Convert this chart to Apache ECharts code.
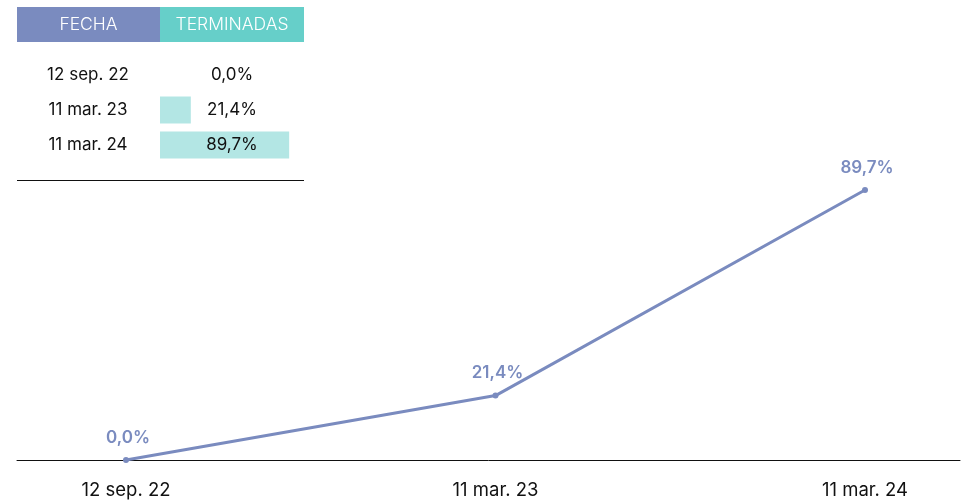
<!DOCTYPE html>
<html>
<head>
<meta charset="utf-8">
<script src="https://cdn.jsdelivr.net/npm/echarts@6/dist/echarts.min.js"></script>
<style>
  html, body { margin: 0; padding: 0; background: #fff; }
  #chart { width: 961px; height: 501px; }
</style>
</head>
<body>
<div id="chart"></div>
<script>
// datos
const fechas = ['12 sep. 22', '11 mar. 23', '11 mar. 24']
const terminadas = [0.0, 21.4, 89.7] // %
const cabecera = ['FECHA', 'TERMINADAS']

const azul = '#7a8bbf'
const verde = '#66cfc9'
const verdeClaro = '#b3e6e4'
const fuente = 'Inter, "Noto Sans", sans-serif'

const pct = v => v.toFixed(1).replace('.', ',') + '%'

const chart = echarts.init(document.getElementById('chart'))
const option = {
    animation: false,
    textStyle: { fontFamily: fuente },
    grid: [
        // linea principal
        { left: 126, right: 96, top: 159, bottom: 41 },
        // solo para la linea del eje
        { left: 17, right: 1, top: 159, bottom: 41 },
        // tabla (barras de datos)
        { left: 160, width: 144, top: 57.5, height: 105 }
    ],
    xAxis: [
        {
            gridIndex: 0,
            type: 'category',
            boundaryGap: false,
            data: fechas,
            axisLine: { show: false },
            axisTick: { show: false },
            axisLabel: { color: '#111', fontSize: 18.5, margin: 21, fontFamily: fuente }
        },
        {
            gridIndex: 1,
            type: 'value',
            min: 0,
            max: 1,
            axisLine: { show: true, lineStyle: { color: '#111', width: 1 } },
            axisTick: { show: false },
            axisLabel: { show: false },
            splitLine: { show: false }
        },
        {
            gridIndex: 2,
            type: 'value',
            min: 0,
            max: 100,
            show: false
        }
    ],
    yAxis: [
        { gridIndex: 0, type: 'value', min: 0, max: 100, show: false },
        { gridIndex: 1, type: 'value', min: 0, max: 1, show: false },
        {
            gridIndex: 2,
            type: 'category',
            inverse: true,
            data: fechas,
            axisLine: { show: false },
            axisTick: { show: false },
            axisLabel: { align: 'center', margin: 72, color: '#111', fontSize: 17, fontFamily: fuente }
        }
    ],
    series: [
        {
            type: 'line',
            xAxisIndex: 0,
            yAxisIndex: 0,
            data: terminadas,
            symbol: 'circle',
            symbolSize: 6,
            lineStyle: { color: azul, width: 3 },
            itemStyle: { color: azul },
            label: {
                show: true,
                position: 'top',
                distance: 11,
                offset: [2, 0],
                color: azul,
                fontSize: 17,
                fontWeight: 600,
                fontFamily: fuente,
                formatter: p => pct(p.value)
            },
            z: 5
        },
        // barras de la tabla
        {
            type: 'bar',
            xAxisIndex: 2,
            yAxisIndex: 2,
            data: terminadas,
            barWidth: 27,
            itemStyle: { color: verdeClaro },
            silent: true
        },
        // capa transparente para centrar el texto en la columna
        {
            type: 'bar',
            xAxisIndex: 2,
            yAxisIndex: 2,
            data: terminadas.map(() => 100),
            barWidth: 27,
            barGap: '-100%',
            itemStyle: { color: 'rgba(0,0,0,0)' },
            label: {
                show: true,
                position: 'inside',
                color: '#111',
                fontSize: 17,
                fontFamily: fuente,
                formatter: p => pct(terminadas[p.dataIndex])
            },
            silent: true
        }
    ],
    graphic: [
        { type: 'rect', shape: { x: 17, y: 7, width: 143, height: 35 }, style: { fill: azul } },
        { type: 'rect', shape: { x: 160, y: 7, width: 144, height: 35 }, style: { fill: verde } },
        {
            type: 'text', x: 88.5, y: 25,
            style: { text: cabecera[0], fill: '#fff', fontSize: 17.5, fontWeight: 300, fontFamily: fuente, align: 'center', verticalAlign: 'middle' }
        },
        {
            type: 'text', x: 232, y: 25,
            style: { text: cabecera[1], fill: '#fff', fontSize: 17.5, fontWeight: 300, fontFamily: fuente, align: 'center', verticalAlign: 'middle' }
        },
        { type: 'line', shape: { x1: 17, y1: 180.5, x2: 304, y2: 180.5 }, style: { stroke: '#111', lineWidth: 1 } }
    ]
}
chart.setOption(option)
</script>
</body>
</html>
